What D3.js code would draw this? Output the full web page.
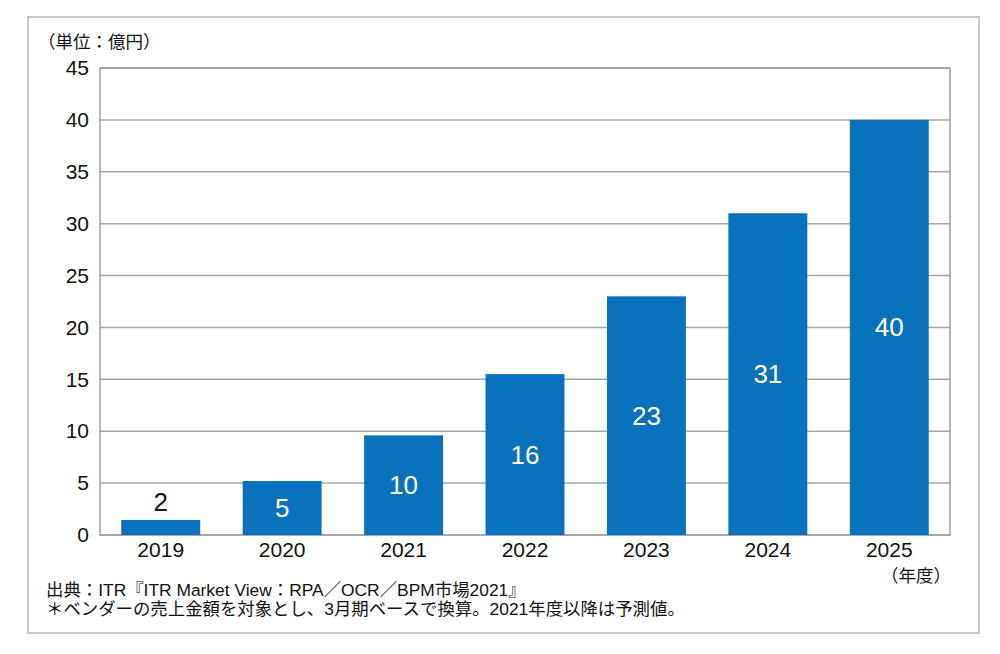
<!DOCTYPE html>
<html><head><meta charset="utf-8">
<script src="https://cdn.jsdelivr.net/npm/d3@7"></script>
<style>
body{margin:0;background:#fff;}
text{font-family:"Liberation Sans","Noto Sans CJK JP",Arial,sans-serif;}
</style></head>
<body><svg id="c" width="1000" height="654"></svg>
<script>
const years = ["2019","2020","2021","2022","2023","2024","2025"];
const values = [1.45, 5.2, 9.6, 15.5, 23.0, 31.0, 40.0];
const labels = ["2","5","10","16","23","31","40"];
const yTicks = [0,5,10,15,20,25,30,35,40,45];
const unitLabel = "（単位：億円）";
const xUnitLabel = "（年度）";
const notes = ["出典：ITR『ITR Market View：RPA／OCR／BPM市場2021』",
               "＊ベンダーの売上金額を対象とし、3月期ベースで換算。2021年度以降は予測値。"];

const svg = d3.select("#c");
const m = {l:100, r:950, t:68, b:535};
svg.append("rect").attr("x",28).attr("y",17).attr("width",951).attr("height",616)
  .attr("fill","#fff").attr("stroke","#c8c8c8").attr("stroke-width",2);

const x = d3.scaleBand().domain(years).range([m.l,m.r]).paddingInner(0.35).paddingOuter(0.175);
const y = d3.scaleLinear().domain([0,45]).range([m.b,m.t]);

// gridlines
svg.append("g").selectAll("line").data(yTicks).join("line")
  .attr("x1",m.l).attr("x2",m.r).attr("y1",d=>y(d)).attr("y2",d=>y(d))
  .attr("stroke","#a6a6a6").attr("stroke-width",1.5);
svg.append("rect").attr("x",m.l).attr("y",m.t).attr("width",m.r-m.l).attr("height",m.b-m.t)
  .attr("fill","none").attr("stroke","#a0a0a0").attr("stroke-width",1.5);

// y axis labels
const yAxis = d3.axisLeft(y).tickValues(yTicks).tickSize(0).tickPadding(11);
const ga = svg.append("g").attr("transform",`translate(${m.l},0)`).call(yAxis);
ga.select(".domain").remove();
ga.selectAll("text").attr("font-size",21).attr("fill","#111").attr("font-family","Liberation Sans, Arial, sans-serif");

// x axis labels
const xAxis = d3.axisBottom(x).tickSize(0).tickPadding(7);
const gx = svg.append("g").attr("transform",`translate(0,${m.b})`).call(xAxis);
gx.select(".domain").remove();
gx.selectAll("text").attr("font-size",21).attr("fill","#111").attr("font-family","Liberation Sans, Arial, sans-serif");

// bars
svg.append("g").selectAll("rect").data(values).join("rect")
  .attr("x",(d,i)=>x(years[i])).attr("width",x.bandwidth())
  .attr("y",d=>y(d)).attr("height",d=>y(0)-y(d)).attr("fill","#0a72bd");

// value labels
svg.append("g").selectAll("text").data(values).join("text")
  .attr("x",(d,i)=>x(years[i])+x.bandwidth()/2)
  .attr("y",(d,i)=> i===0 ? y(d)-9 : (y(d)+y(0))/2 + 9)
  .attr("text-anchor","middle").attr("font-size",26)
  .attr("fill",(d,i)=> i===0 ? "#111" : "#fff")
  .text((d,i)=>labels[i]);

svg.append("text").attr("x",38).attr("y",48).attr("font-size",17.5).attr("fill","#111").text(unitLabel);
svg.append("text").attr("x",951).attr("y",582).attr("text-anchor","end").attr("font-size",17.5).attr("fill","#111").text(xUnitLabel);
svg.append("g").selectAll("text").data(notes).join("text")
  .attr("x",46).attr("y",(d,i)=>596+i*19).attr("font-size",17.4).attr("fill","#111")
  .text(d=>d);
</script></body></html>
